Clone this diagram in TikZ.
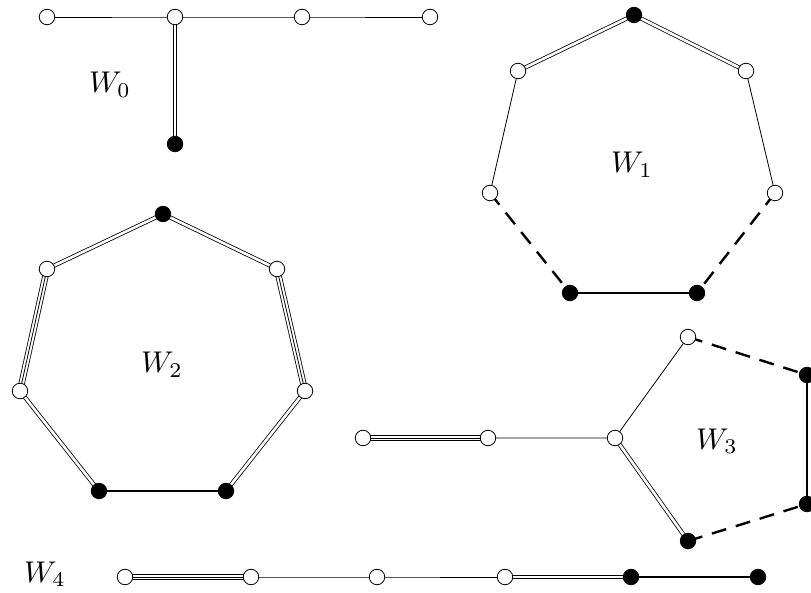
\documentclass[tikz,border=0pt]{standalone}
\usetikzlibrary{backgrounds}

\begin{document}
\begin{tikzpicture}[
  x=1pt, y=-1pt,
  vert/.style={draw, circle, fill=white, inner sep=0pt, minimum size=15.5pt, line width=0.8pt},
  fvert/.style={vert, fill=black},
  edge/.style={line width=0.8pt},
  dedge/.style={line width=0.8pt, double, double distance=2.6pt},
  tedge/.style={line width=0.8pt, preaction={draw, line width=6.4pt},
                preaction={draw, white, line width=4.8pt}},
  bedge/.style={line width=2.4pt},
  dashedge/.style={line width=2.4pt, dash pattern=on 15pt off 10pt},
  lbl/.style={scale=3}
]
\useasboundingbox (0,0) rectangle (811,593);

% W_0
\node[vert] (a1) at (47,17) {};
\node[vert] (a2) at (175,17) {};
\node[vert] (a3) at (302,17) {};
\node[vert] (a4) at (430,17) {};
\node[fvert] (a5) at (175,144) {};
\node[lbl] at (110,85) {$W_0$};

% W_1
\node[fvert] (b1) at (634,15) {};
\node[vert] (b2) at (518,71) {};
\node[vert] (b3) at (746,71) {};
\node[vert] (b4) at (490,193) {};
\node[vert] (b5) at (775,193) {};
\node[fvert] (b6) at (570,293) {};
\node[fvert] (b7) at (697,293) {};
\node[lbl] at (632,165) {$W_1$};

% W_2
\node[fvert] (c1) at (163,214) {};
\node[vert] (c2) at (47,269) {};
\node[vert] (c3) at (277,269) {};
\node[vert] (c4) at (20,391) {};
\node[vert] (c5) at (305,391) {};
\node[fvert] (c6) at (99,491) {};
\node[fvert] (c7) at (226,491) {};
\node[lbl] at (162,365) {$W_2$};

% W_3
\node[vert] (d1) at (363,438) {};
\node[vert] (d2) at (488,438) {};
\node[vert] (d3) at (615,438) {};
\node[vert] (d4) at (688,337) {};
\node[fvert] (d5) at (688,541) {};
\node[fvert] (d6) at (807,375) {};
\node[fvert] (d7) at (807,504) {};
\node[lbl] at (717,441) {$W_3$};

% W_4
\node[lbl] at (45,574) {$W_4$};
\node[vert] (e1) at (125,577) {};
\node[vert] (e2) at (251,577) {};
\node[vert] (e3) at (377,577) {};
\node[vert] (e4) at (505,577) {};
\node[fvert] (e5) at (631,577) {};
\node[fvert] (e6) at (758,577) {};

\begin{pgfonlayer}{background}
% W_0
\draw[edge] (a1.center) -- (a2.center) -- (a3.center) -- (a4.center);
\draw[dedge] (a2.center) -- (a5.center);
% W_1
\draw[dedge] (b2.center) -- (b1.center) -- (b3.center);
\draw[edge] (b2.center) -- (b4.center);
\draw[edge] (b3.center) -- (b5.center);
\draw[dashedge] (b4.center) -- (b6.center);
\draw[dashedge] (b5.center) -- (b7.center);
\draw[bedge] (b6.center) -- (b7.center);
% W_2
\draw[dedge] (c2.center) -- (c1.center) -- (c3.center);
\draw[tedge] (c2.center) -- (c4.center);
\draw[tedge] (c3.center) -- (c5.center);
\draw[dedge] (c4.center) -- (c6.center);
\draw[dedge] (c5.center) -- (c7.center);
\draw[bedge] (c6.center) -- (c7.center);
% W_3
\draw[tedge] (d1.center) -- (d2.center);
\draw[edge] (d2.center) -- (d3.center) -- (d4.center);
\draw[dedge] (d3.center) -- (d5.center);
\draw[dashedge] (d4.center) -- (d6.center);
\draw[dashedge] (d5.center) -- (d7.center);
\draw[bedge] (d6.center) -- (d7.center);
% W_4
\draw[tedge] (e1.center) -- (e2.center);
\draw[edge] (e2.center) -- (e3.center) -- (e4.center);
\draw[dedge] (e4.center) -- (e5.center);
\draw[bedge] (e5.center) -- (e6.center);
\end{pgfonlayer}
\end{tikzpicture}
\end{document}
